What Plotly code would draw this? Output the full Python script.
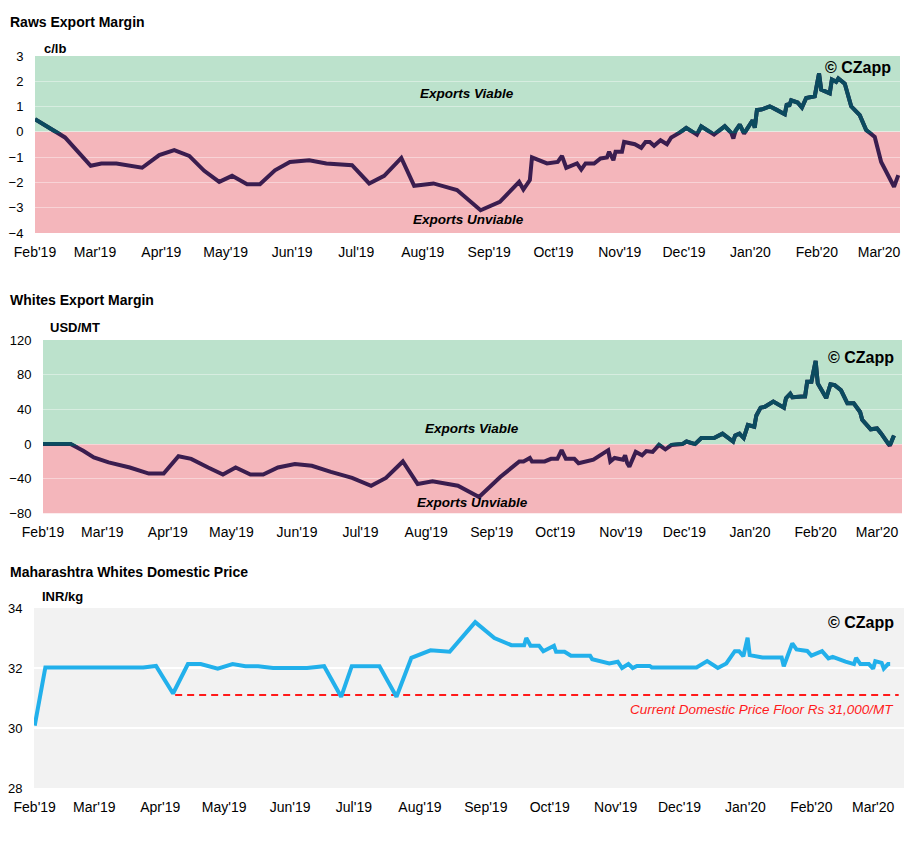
import plotly.graph_objects as go

# ---------------- data ----------------
tick_dates = ["2019-02-01", "2019-03-01", "2019-04-01", "2019-05-01", "2019-06-01", "2019-07-01",
              "2019-08-01", "2019-09-01", "2019-10-01", "2019-11-01", "2019-12-01", "2020-01-01",
              "2020-02-01", "2020-03-01"]
tick_labels = ["Feb'19", "Mar'19", "Apr'19", "May'19", "Jun'19", "Jul'19", "Aug'19", "Sep'19",
               "Oct'19", "Nov'19", "Dec'19", "Jan'20", "Feb'20", "Mar'20"]

raws_dates = ["2019-02-01", "2019-02-15", "2019-02-27", "2019-03-04", "2019-03-11", "2019-03-23",
              "2019-03-31", "2019-04-07", "2019-04-14", "2019-04-21", "2019-04-28", "2019-05-04",
              "2019-05-11", "2019-05-17", "2019-05-24", "2019-05-31", "2019-06-09", "2019-06-17",
              "2019-06-29", "2019-07-07", "2019-07-14", "2019-07-22", "2019-07-28", "2019-08-06",
              "2019-08-17", "2019-08-28", "2019-09-06", "2019-09-15", "2019-09-17", "2019-09-20",
              "2019-09-21", "2019-09-28", "2019-10-03", "2019-10-05", "2019-10-07", "2019-10-12",
              "2019-10-14", "2019-10-16", "2019-10-20", "2019-10-23", "2019-10-26", "2019-10-27",
              "2019-10-29", "2019-10-30", "2019-11-02", "2019-11-03", "2019-11-08", "2019-11-11",
              "2019-11-13", "2019-11-15", "2019-11-17", "2019-11-20", "2019-11-23", "2019-11-25",
              "2019-11-29", "2019-11-30", "2019-12-02", "2019-12-07", "2019-12-09", "2019-12-15",
              "2019-12-20", "2019-12-23", "2019-12-24", "2019-12-25", "2019-12-27", "2019-12-29",
              "2020-01-02", "2020-01-03", "2020-01-04", "2020-01-06", "2020-01-10", "2020-01-13",
              "2020-01-17", "2020-01-18", "2020-01-19", "2020-01-20", "2020-01-23", "2020-01-25",
              "2020-01-27", "2020-01-31", "2020-02-02", "2020-02-03", "2020-02-07", "2020-02-08",
              "2020-02-10", "2020-02-11", "2020-02-14", "2020-02-17", "2020-02-21", "2020-02-24",
              "2020-02-28", "2020-03-02", "2020-03-06", "2020-03-08", "2020-03-10"]
raws_margin = [0.50, -0.22, -1.34, -1.25, -1.25, -1.42,
               -0.92, -0.72, -0.95, -1.54, -1.98, -1.74,
               -2.07, -2.07, -1.52, -1.19, -1.12, -1.25,
               -1.32, -2.04, -1.74, -1.03, -2.13, -2.04,
               -2.30, -3.10, -2.77, -1.98, -2.28, -1.91,
               -1.01, -1.25, -1.19, -0.95, -1.42, -1.25,
               -1.49, -1.25, -1.25, -1.05, -1.01, -0.79,
               -1.12, -0.79, -0.79, -0.40, -0.49, -0.63,
               -0.40, -0.40, -0.55, -0.33, -0.49, -0.22,
               -0.03, 0.04, 0.16, -0.11, 0.22, -0.11,
               0.22, -0.04, -0.26, 0.04, 0.29, -0.07,
               0.46, 0.16, 0.86, 0.88, 1.01, 0.88,
               0.70, 1.12, 1.01, 1.25, 1.16, 0.96,
               1.34, 1.41, 2.31, 1.67, 1.52, 2.07,
               1.98, 2.11, 1.91, 1.01, 0.66, 0.07,
               -0.20, -1.19, -1.84, -2.17, -1.71]

whites_dates = ["2019-02-01", "2019-02-14", "2019-02-20", "2019-02-25", "2019-03-04", "2019-03-14",
                "2019-03-23", "2019-03-30", "2019-04-06", "2019-04-12", "2019-04-20", "2019-04-27",
                "2019-05-03", "2019-05-10", "2019-05-16", "2019-05-23", "2019-05-31", "2019-06-08",
                "2019-06-17", "2019-06-27", "2019-07-06", "2019-07-13", "2019-07-21", "2019-07-28",
                "2019-08-04", "2019-08-16", "2019-08-26", "2019-09-05", "2019-09-14", "2019-09-16",
                "2019-09-19", "2019-09-20", "2019-09-26", "2019-09-29", "2019-10-02", "2019-10-04",
                "2019-10-06", "2019-10-10", "2019-10-12", "2019-10-15", "2019-10-19", "2019-10-26",
                "2019-10-27", "2019-10-29", "2019-11-02", "2019-11-03", "2019-11-04", "2019-11-05",
                "2019-11-08", "2019-11-11", "2019-11-13", "2019-11-16", "2019-11-19", "2019-11-22",
                "2019-11-25", "2019-11-30", "2019-12-02", "2019-12-06", "2019-12-09", "2019-12-15",
                "2019-12-19", "2019-12-24", "2019-12-25", "2019-12-27", "2019-12-29", "2019-12-31",
                "2020-01-03", "2020-01-04", "2020-01-06", "2020-01-08", "2020-01-12", "2020-01-17",
                "2020-01-18", "2020-01-20", "2020-01-21", "2020-01-25", "2020-01-27", "2020-01-28",
                "2020-01-30", "2020-02-01", "2020-02-02", "2020-02-06", "2020-02-08", "2020-02-10",
                "2020-02-13", "2020-02-16", "2020-02-19", "2020-02-22", "2020-02-23", "2020-02-27",
                "2020-03-01", "2020-03-03", "2020-03-07", "2020-03-09"]
whites_margin = [0, 0, -7.7, -15.4, -21, -27,
                 -34, -34, -14, -17, -27, -35,
                 -27, -35, -35, -27, -23, -25,
                 -32, -39, -48, -39, -20, -46,
                 -43, -48, -61, -38, -20, -20,
                 -16, -20, -20, -17, -17, -7,
                 -17, -17, -22, -20, -18, -7,
                 -20, -16, -18, -13, -22, -26,
                 -9, -13, -8, -9, -1, -6,
                 -1, 0, 3, 0, 7, 7,
                 12, 3, 10, 12, 7, 22,
                 20, 33, 42, 43, 49, 42,
                 53, 58, 54, 55, 55, 72,
                 72, 96, 70, 53, 69, 68,
                 62, 47, 47, 37, 28, 17,
                 18, 12, -2, 10]

domestic_dates = ["2019-02-01", "2019-02-06", "2019-03-24", "2019-03-30", "2019-04-07", "2019-04-14",
                  "2019-04-20", "2019-04-28", "2019-05-05", "2019-05-11", "2019-05-17", "2019-05-24",
                  "2019-06-09", "2019-06-17", "2019-06-25", "2019-06-30", "2019-07-13", "2019-07-21",
                  "2019-07-28", "2019-08-06", "2019-08-15", "2019-08-27", "2019-09-05", "2019-09-13",
                  "2019-09-19", "2019-09-20", "2019-09-22", "2019-09-26", "2019-09-28", "2019-10-03",
                  "2019-10-04", "2019-10-08", "2019-10-11", "2019-10-20", "2019-10-21", "2019-10-25",
                  "2019-10-29", "2019-11-02", "2019-11-04", "2019-11-07", "2019-11-09", "2019-11-11",
                  "2019-11-17", "2019-11-18", "2019-12-09", "2019-12-14", "2019-12-19", "2019-12-23",
                  "2019-12-27", "2019-12-29", "2019-12-31", "2020-01-02", "2020-01-03", "2020-01-09",
                  "2020-01-18", "2020-01-19", "2020-01-23", "2020-01-25", "2020-01-30", "2020-02-01",
                  "2020-02-06", "2020-02-09", "2020-02-11", "2020-02-17", "2020-02-21", "2020-02-22",
                  "2020-02-24", "2020-02-28", "2020-03-01", "2020-03-02", "2020-03-05", "2020-03-06",
                  "2020-03-08", "2020-03-09"]
domestic_price = [30.08, 32.02, 32.02, 32.07, 31.15, 32.13,
                  32.13, 31.98, 32.13, 32.06, 32.06, 32.00,
                  32.00, 32.06, 31.04, 32.06, 32.06, 31.04,
                  32.34, 32.59, 32.54, 33.53, 33.00, 32.76,
                  32.76, 33.00, 32.74, 32.74, 32.56, 32.74,
                  32.54, 32.54, 32.41, 32.41, 32.29, 32.23,
                  32.15, 32.21, 32.00, 32.13, 32.00, 32.07,
                  32.07, 32.02, 32.02, 32.23, 32.00, 32.15,
                  32.56, 32.56, 32.39, 33.01, 32.43, 32.35,
                  32.35, 32.06, 32.82, 32.62, 32.57, 32.41,
                  32.56, 32.32, 32.37, 32.21, 32.13, 32.34,
                  32.13, 32.13, 31.98, 32.23, 32.17, 31.98,
                  32.13, 32.13]

floor_dates = ["2019-04-08", "2020-03-13"]
floor_price = [31.1, 31.1]

# ---------------- styling ----------------
W, H = 912, 856
FONT = "Liberation Sans, Arial, sans-serif"
TEAL = "#0b4b5f"
PURPLE = "#3a1d4f"
GREEN = "#bce2cc"
PINK = "#f4b6bb"
BLUE = "#22b0eb"
GRID = "rgba(255,255,255,0.4)"


def fx(px):
    return px / W


def fy(py):
    return 1 - py / H


def split_frac(top_px, bot_px, lo, hi, z):
    b, t = fy(bot_px), fy(top_px)
    return b + (z - lo) / (hi - lo) * (t - b)


fig = go.Figure()

# chart 1 : raws
fig.add_trace(go.Scatter(x=raws_dates, y=raws_margin, mode="lines", xaxis="x", yaxis="y",
                         line=dict(color=PURPLE, width=4), hoverinfo="skip", showlegend=False))
fig.add_trace(go.Scatter(x=raws_dates, y=raws_margin, mode="lines", xaxis="x", yaxis="y2",
                         line=dict(color=TEAL, width=4), hoverinfo="skip", showlegend=False))
# chart 2 : whites
fig.add_trace(go.Scatter(x=whites_dates, y=whites_margin, mode="lines", xaxis="x2", yaxis="y3",
                         line=dict(color=PURPLE, width=4), hoverinfo="skip", showlegend=False))
fig.add_trace(go.Scatter(x=whites_dates, y=whites_margin, mode="lines", xaxis="x2", yaxis="y4",
                         line=dict(color=TEAL, width=4), hoverinfo="skip", showlegend=False))
# chart 3 : domestic
fig.add_trace(go.Scatter(x=floor_dates, y=floor_price, mode="lines", xaxis="x3", yaxis="y5",
                         line=dict(color="#ff1a1a", width=2, dash="7px,5px"), hoverinfo="skip",
                         showlegend=False))
fig.add_trace(go.Scatter(x=domestic_dates, y=domestic_price, mode="lines", xaxis="x3", yaxis="y5",
                         line=dict(color=BLUE, width=4), hoverinfo="skip", showlegend=False))

xcommon = dict(type="date", tickmode="array", tickvals=tick_dates, ticktext=tick_labels,
               showgrid=False, zeroline=False, showline=False, ticks="outside", ticklen=6,
               tickcolor="rgba(0,0,0,0)", tickfont=dict(family=FONT, size=14, color="#000"),
               fixedrange=True, automargin=False)
ycommon = dict(showline=False, zeroline=False, ticks="outside", ticklen=8,
               tickcolor="rgba(0,0,0,0)", tickfont=dict(family=FONT, size=13, color="#000"),
               gridcolor=GRID, gridwidth=1, fixedrange=True, automargin=False)

r_top, r_bot = 56, 233
w_top, w_bot = 340, 513.5
d_top, d_bot = 608, 788
zr, zw = -0.06, -2.0

fig.update_layout(
    template="none",
    width=W, height=H, margin=dict(l=0, r=0, t=0, b=0, pad=0, autoexpand=False),
    paper_bgcolor="white", plot_bgcolor="rgba(0,0,0,0)",
    font=dict(family=FONT, color="#000"),
    xaxis=dict(xcommon, domain=[fx(35), fx(900)], range=["2019-02-01", "2020-03-10 19:00"], anchor="y"),
    yaxis=dict(ycommon, domain=[fy(r_bot), fy(r_top)], range=[-4, 3],
               tickvals=[-4, -3, -2, -1, 0, 1, 2, 3], anchor="x"),
    yaxis2=dict(domain=[split_frac(r_top, r_bot, -4, 3, zr), fy(r_top)], range=[zr, 3],
                visible=False, anchor="x", fixedrange=True, automargin=False),
    xaxis2=dict(xcommon, domain=[fx(43), fx(902)], range=["2019-02-01", "2020-03-12 19:00"], anchor="y3"),
    yaxis3=dict(ycommon, domain=[fy(w_bot), fy(w_top)], range=[-80, 120],
                tickvals=[-80, -40, 0, 40, 80, 120], anchor="x2"),
    yaxis4=dict(domain=[split_frac(w_top, w_bot, -80, 120, zw), fy(w_top)], range=[zw, 120],
                visible=False, anchor="x2", fixedrange=True, automargin=False),
    xaxis3=dict(xcommon, domain=[fx(34), fx(904)], range=["2019-01-31 16:00", "2020-03-15 12:00"],
                anchor="y5"),
    yaxis5=dict(ycommon, domain=[fy(d_bot), fy(d_top)], range=[28, 34],
                tickvals=[28, 30, 32, 34], anchor="x3", gridcolor="white", gridwidth=1.5),
)

shapes = [
    dict(type="rect", xref="x domain", yref="y", x0=0, x1=1, y0=0, y1=3, fillcolor=GREEN,
         line=dict(width=0), layer="below"),
    dict(type="rect", xref="x domain", yref="y", x0=0, x1=1, y0=-4, y1=0, fillcolor=PINK,
         line=dict(width=0), layer="below"),
    dict(type="rect", xref="x2 domain", yref="y3", x0=0, x1=1, y0=0, y1=120, fillcolor=GREEN,
         line=dict(width=0), layer="below"),
    dict(type="rect", xref="x2 domain", yref="y3", x0=0, x1=1, y0=-80, y1=0, fillcolor=PINK,
         line=dict(width=0), layer="below"),
    dict(type="rect", xref="x3 domain", yref="y5 domain", x0=0, x1=1, y0=0, y1=1, fillcolor="#f2f2f2",
         line=dict(width=0), layer="below"),
]
fig.update_layout(shapes=shapes)


def ann(text, px, py, size, anchor="left", bold=True, italic=False, color="#000"):
    t = text
    if bold:
        t = "<b>" + t + "</b>"
    if italic:
        t = "<i>" + t + "</i>"
    fig.add_annotation(text=t, xref="paper", yref="paper", x=fx(px), y=fy(py), xanchor=anchor,
                       yanchor="middle", showarrow=False,
                       font=dict(family=FONT, size=size, color=color))


ann("Raws Export Margin", 8, 22, 14)
ann("c/lb", 42, 48, 13)
ann("Whites Export Margin", 8, 300, 14)
ann("USD/MT", 48, 327, 13)
ann("Maharashtra Whites Domestic Price", 8, 572, 14)
ann("INR/kg", 40, 596, 13)

ann("© CZapp", 893, 67, 16, anchor="right")
ann("© CZapp", 896, 357, 16, anchor="right")
ann("© CZapp", 896, 622, 16, anchor="right")

ann("Exports Viable", 467, 94, 13.5, anchor="center", italic=True)
ann("Exports Unviable", 468, 220, 13.5, anchor="center", italic=True)
ann("Exports Viable", 472, 429, 13.5, anchor="center", italic=True)
ann("Exports Unviable", 472, 502, 13.5, anchor="center", italic=True)

ann("Current Domestic Price Floor Rs 31,000/MT", 896, 709, 13.5, anchor="right", bold=False,
    italic=True, color="#ff1a1a")

fig.write_html("out.html", config={"displayModeBar": False},
               post_script="document.body.style.margin='0';document.body.style.overflow='hidden';")
